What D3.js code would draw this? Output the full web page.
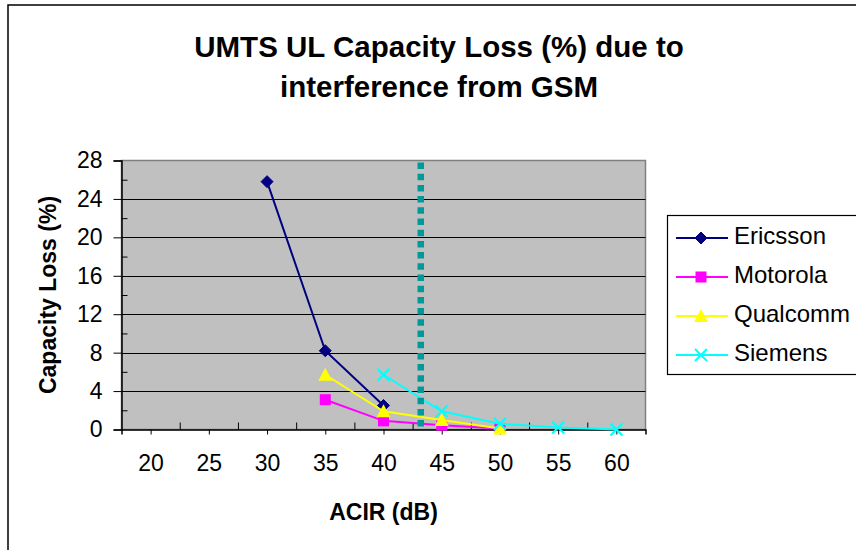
<!DOCTYPE html>
<html>
<head>
<meta charset="utf-8">
<script src="https://cdn.jsdelivr.net/npm/d3@7"></script>
<style>
  html, body { margin: 0; padding: 0; background: #ffffff; }
  svg { display: block; }
  text { font-family: "Liberation Sans", Arial, Helvetica, sans-serif; fill: #000; }
</style>
</head>
<body>
<svg id="chart" width="856" height="550"></svg>
<script>
// ---- data ----
const acirCategories = [20, 25, 30, 35, 40, 45, 50, 55, 60];
const yTicks = [0, 4, 8, 12, 16, 20, 24, 28];
const seriesNames = ["Ericsson", "Motorola", "Qualcomm", "Siemens"];
const ericssonX = [30, 35, 40];
const ericssonY = [25.8, 8.2, 2.5];
const motorolaX = [35, 40, 45, 50];
const motorolaY = [3.1, 0.9, 0.45, 0.1];
const qualcommX = [35, 40, 45, 50];
const qualcommY = [5.7, 1.9, 1.0, 0.1];
const siemensX = [40, 45, 50, 55, 60];
const siemensY = [5.7, 1.9, 0.6, 0.2, 0.0];
const thresholdACIR = 43.2;
const titleLines = ["UMTS UL Capacity Loss (%) due to", "interference from GSM"];
const xTitle = "ACIR (dB)";
const yTitle = "Capacity Loss (%)";

// ---- layout ----
const svg = d3.select("#chart");
const plot = { left: 121.5, right: 645.5, top: 160.5, bottom: 429.5 };
const step = 5;
const x = d3.scaleLinear()
  .domain([acirCategories[0] - step / 2, acirCategories[acirCategories.length - 1] + step / 2])
  .range([plot.left, plot.right]);
const y = d3.scaleLinear().domain([0, 28]).range([plot.bottom, plot.top]);

const styles = {
  Ericsson: { color: "#000080", marker: "diamond" },
  Motorola: { color: "#FF00FF", marker: "square" },
  Qualcomm: { color: "#FFFF00", marker: "triangle" },
  Siemens:  { color: "#00FFFF", marker: "cross" }
};
const seriesData = [
  { name: "Ericsson", xs: ericssonX, ys: ericssonY },
  { name: "Motorola", xs: motorolaX, ys: motorolaY },
  { name: "Qualcomm", xs: qualcommX, ys: qualcommY },
  { name: "Siemens",  xs: siemensX,  ys: siemensY }
].map(s => ({ name: s.name, pts: s.xs.map((v, i) => ({ x: v, y: s.ys[i] })) }));

// outer chart border
svg.append("rect").attr("x", 8).attr("y", 5).attr("width", 900).attr("height", 600)
  .attr("fill", "none").attr("stroke", "#000").attr("stroke-width", 1.5);

// title
svg.append("g").selectAll("text").data(titleLines).join("text")
  .attr("x", 439).attr("y", (d, i) => 57 + i * 40)
  .attr("text-anchor", "middle").attr("font-size", 29.5).attr("font-weight", "bold")
  .text(d => d);

// plot area background
svg.append("rect").attr("x", plot.left).attr("y", plot.top)
  .attr("width", plot.right - plot.left).attr("height", plot.bottom - plot.top)
  .attr("fill", "#C0C0C0").attr("stroke", "#808080").attr("stroke-width", 1.5);

// gridlines
svg.append("g").selectAll("line").data(yTicks.filter(v => v > 0 && v < 28)).join("line")
  .attr("x1", plot.left).attr("x2", plot.right)
  .attr("y1", d => Math.round(y(d)) + 0.5).attr("y2", d => Math.round(y(d)) + 0.5)
  .attr("stroke", "#000").attr("stroke-width", 1);

// y axis (major ticks outside, minor inside)
const yAxis = svg.append("g").attr("transform", `translate(${plot.left},0)`)
  .call(d3.axisLeft(y).tickValues(yTicks).tickSize(8).tickPadding(11).tickFormat(d3.format("d")));
yAxis.select(".domain").attr("stroke", "#000").attr("stroke-width", 1.5);
yAxis.selectAll(".tick text").attr("font-size", 23).attr("font-family", "Liberation Sans, Arial, sans-serif").attr("fill", "#000");
yAxis.selectAll(".tick line").attr("stroke", "#000");
const minorY = d3.range(2, 28, 4);
svg.append("g").attr("transform", `translate(${plot.left},0)`)
  .call(d3.axisRight(y).tickValues(minorY).tickSize(6).tickFormat(""))
  .call(g => g.select(".domain").remove())
  .selectAll("line").attr("stroke", "#000");

// x axis: labels/ticks down at categories, ticks up at boundaries
const xAxis = svg.append("g").attr("transform", `translate(0,${plot.bottom})`)
  .call(d3.axisBottom(x).tickValues(acirCategories).tickSize(5).tickPadding(20).tickFormat(d3.format("d")));
xAxis.select(".domain").attr("stroke", "#000").attr("stroke-width", 1.5);
xAxis.selectAll(".tick text").attr("font-size", 23).attr("font-family", "Liberation Sans, Arial, sans-serif").attr("fill", "#000");
xAxis.selectAll(".tick line").attr("stroke", "#000");
const boundaries = acirCategories.slice(1).map(v => v - step / 2);
svg.append("g").attr("transform", `translate(0,${plot.bottom})`)
  .call(d3.axisTop(x).tickValues(boundaries).tickSize(7).tickFormat(""))
  .call(g => g.select(".domain").remove())
  .selectAll("line").attr("stroke", "#000");

// axis titles
svg.append("text").attr("x", (plot.left + plot.right) / 2).attr("y", 520)
  .attr("text-anchor", "middle").attr("font-size", 23).attr("font-weight", "bold").text(xTitle);
svg.append("text").attr("transform", `translate(56,${(plot.top + plot.bottom) / 2}) rotate(-90)`)
  .attr("text-anchor", "middle").attr("font-size", 23).attr("font-weight", "bold").text(yTitle);

// marker drawing
function drawMarker(g, type, color, size) {
  const h = size / 2;
  if (type === "diamond") {
    g.append("path").attr("d", `M0,${-h}L${h},0L0,${h}L${-h},0Z`).attr("fill", color).attr("stroke", color);
  } else if (type === "square") {
    g.append("rect").attr("x", -h + 0.5).attr("y", -h + 0.5).attr("width", size - 1).attr("height", size - 1).attr("fill", color);
  } else if (type === "triangle") {
    g.append("path").attr("d", `M0,${-h - 1}L${h + 1},${h}L${-h - 1},${h}Z`).attr("fill", color);
  } else if (type === "cross") {
    g.append("path").attr("d", `M${-h},${-h}L${h},${h}M${-h},${h}L${h},${-h}`).attr("stroke", color).attr("stroke-width", 2).attr("fill", "none");
  }
}

const line = d3.line().x(d => x(d.x)).y(d => y(d.y));
const seriesG = svg.append("g");
seriesData.forEach(s => {
  const st = styles[s.name];
  const g = seriesG.append("g");
  g.append("path").datum(s.pts).attr("d", line).attr("fill", "none")
    .attr("stroke", st.color).attr("stroke-width", 2);
  g.selectAll("g.m").data(s.pts).join("g").attr("class", "m")
    .attr("transform", d => `translate(${x(d.x)},${y(d.y)})`)
    .each(function () { drawMarker(d3.select(this), st.marker, st.color, 12); });
});

// threshold dashed line
svg.append("line").attr("x1", x(thresholdACIR)).attr("x2", x(thresholdACIR))
  .attr("y1", plot.top + 2).attr("y2", y(0) - 3)
  .attr("stroke", "#009999").attr("stroke-width", 6.5).attr("stroke-dasharray", "6.5,4.7");

// legend
const legend = svg.append("g");
legend.append("rect").attr("x", 667.5).attr("y", 215.5).attr("width", 200).attr("height", 159)
  .attr("fill", "#fff").attr("stroke", "#000").attr("stroke-width", 1.2);
seriesNames.forEach((name, i) => {
  const st = styles[name];
  const cy = 238 + i * 39;
  legend.append("line").attr("x1", 676).attr("x2", 728).attr("y1", cy).attr("y2", cy)
    .attr("stroke", st.color).attr("stroke-width", 2);
  const mg = legend.append("g").attr("transform", `translate(701,${cy})`);
  drawMarker(mg, st.marker, st.color, 12);
  legend.append("text").attr("x", 734).attr("y", cy + 6).attr("font-size", 24).text(name);
});
</script>
</body>
</html>
